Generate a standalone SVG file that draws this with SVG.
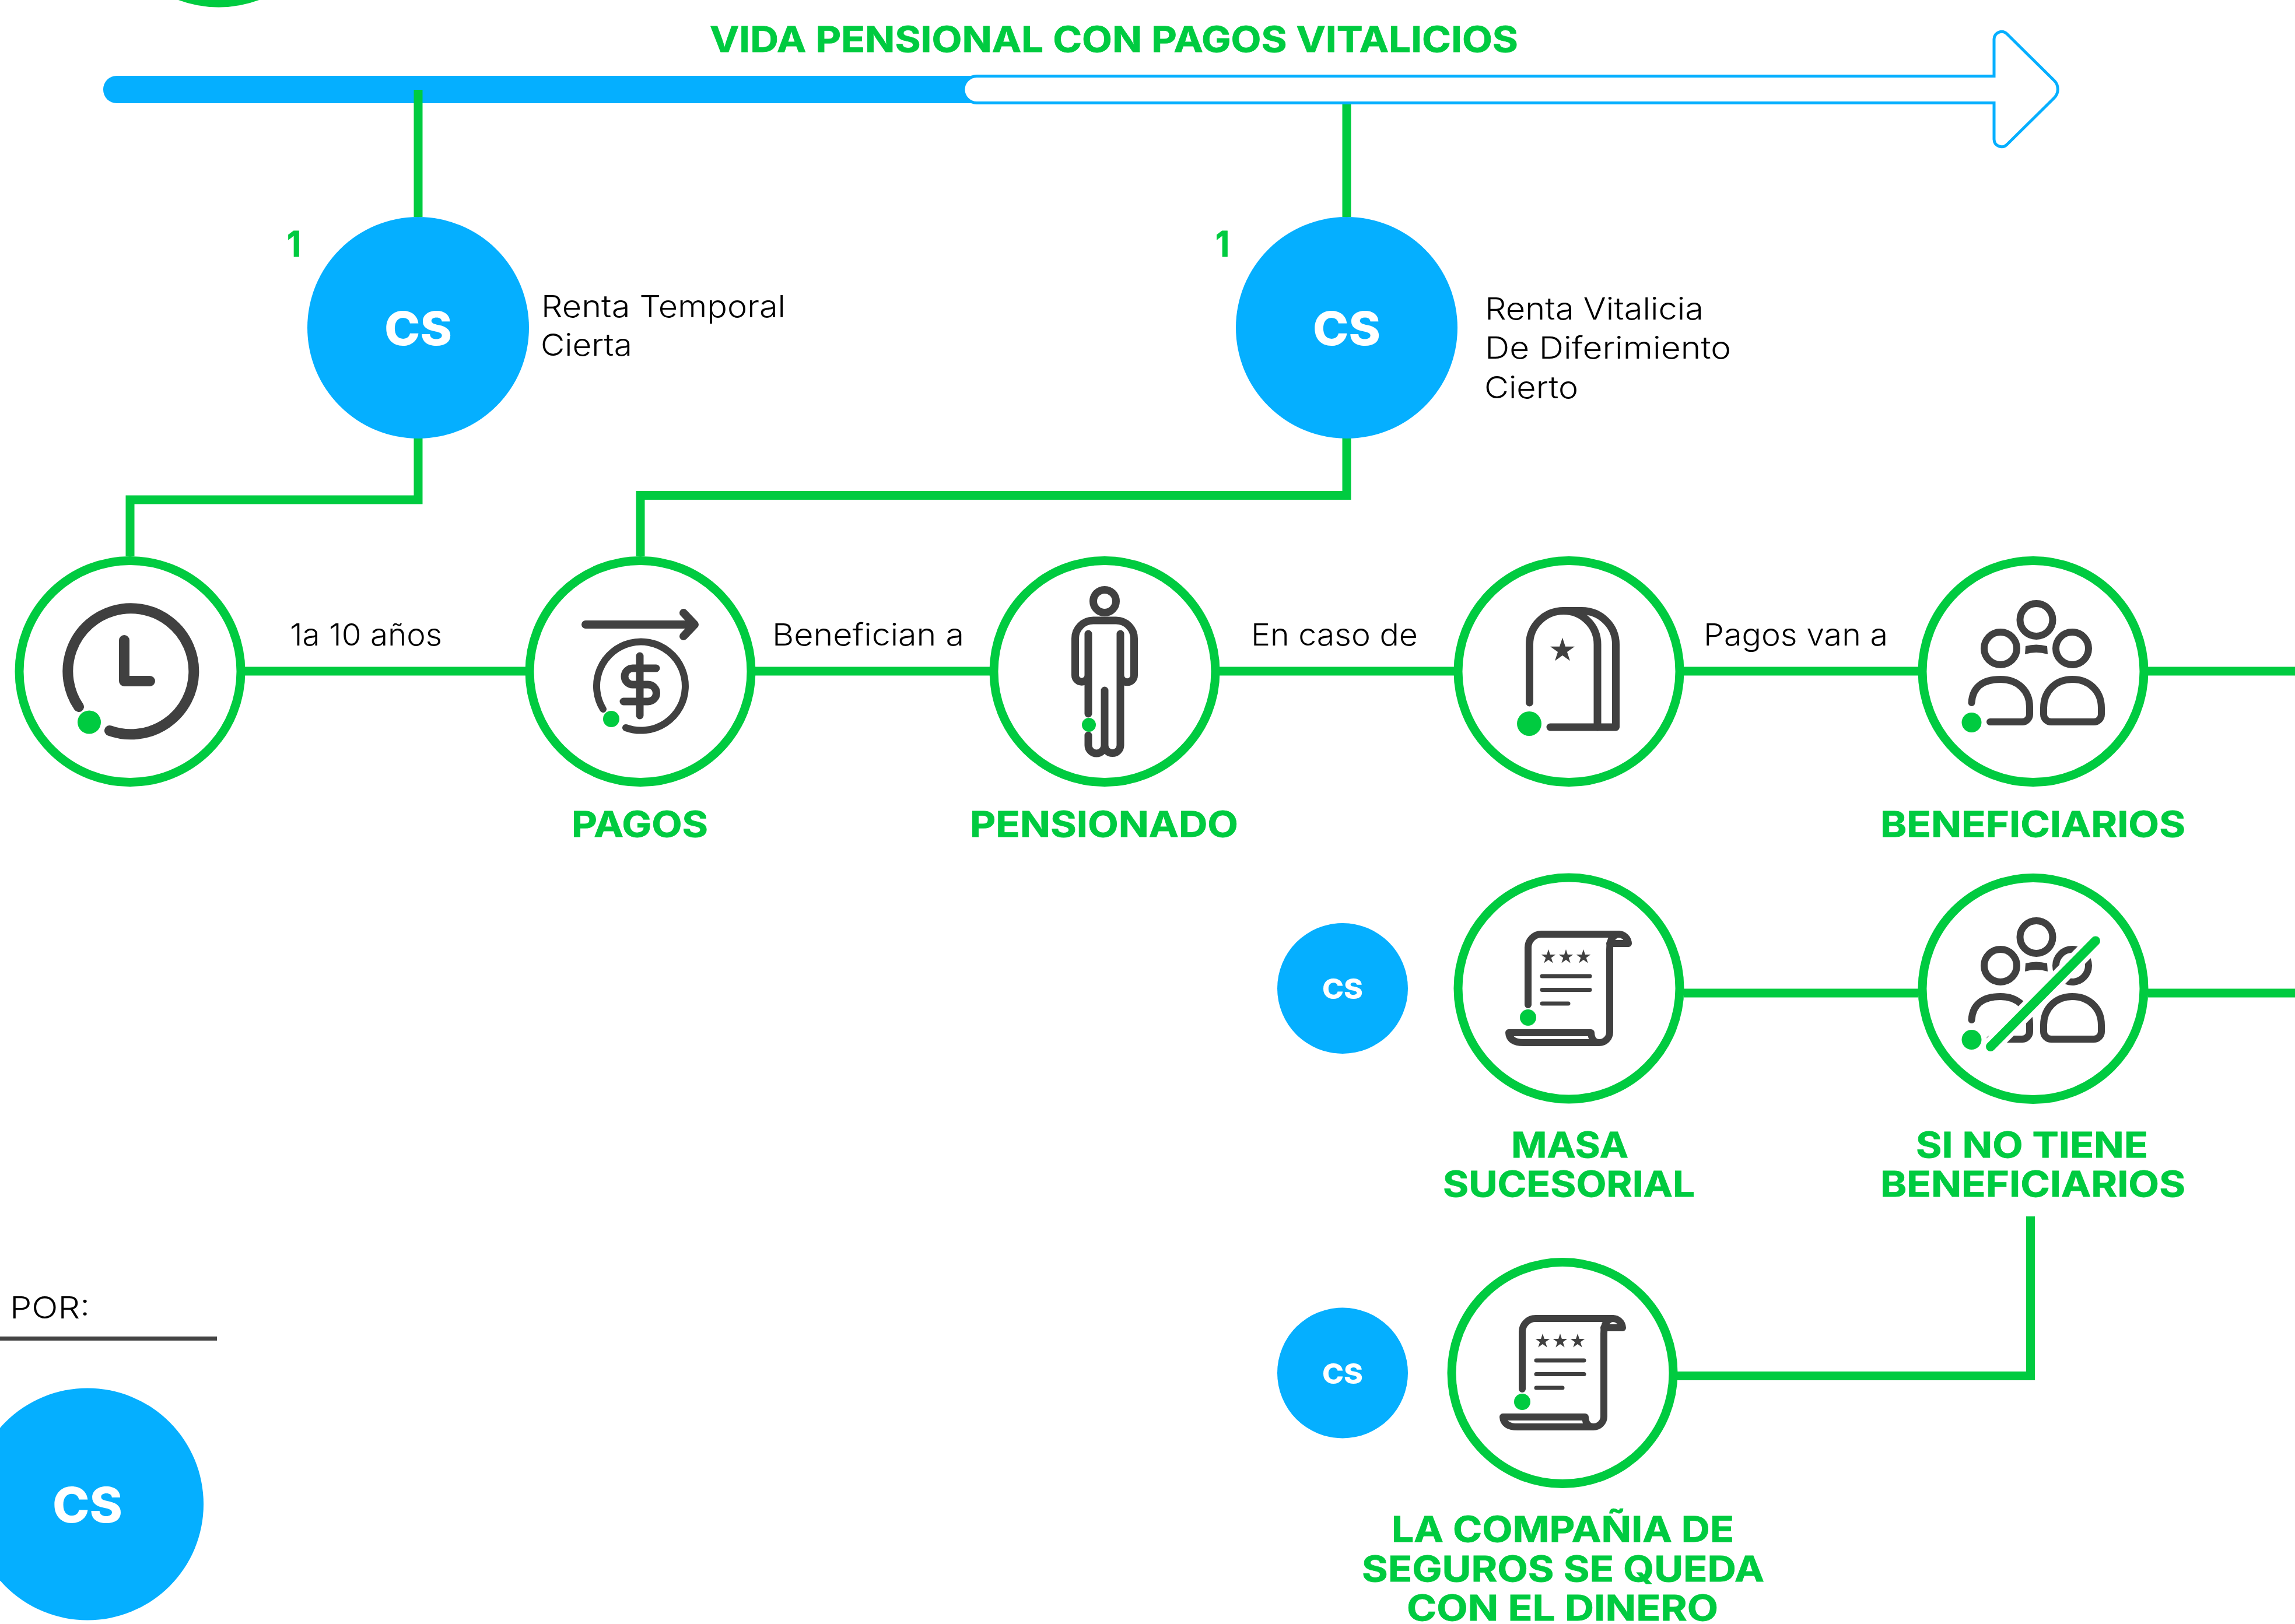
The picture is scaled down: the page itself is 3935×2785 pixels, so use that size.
<svg xmlns="http://www.w3.org/2000/svg" xmlns:xlink="http://www.w3.org/1999/xlink" width="3935" height="2785" viewBox="0 0 3935 2785">
<style>
text{font-family:"Inter","Noto Sans","Liberation Sans",sans-serif}
.lbl{font-size:52px;font-weight:300;fill:#000}
.hd{font-size:60px;font-weight:700;fill:#00cb40;stroke:#00cb40;stroke-width:.8px}
.cs{font-weight:800;fill:#fff}
.ring{fill:#fff;stroke:#00cb40;stroke-width:15}
.blue{fill:#05afff}
.dot{fill:#00cb40}
.ink{fill:none;stroke:#404040;stroke-linecap:round;stroke-linejoin:round}
.star{fill:#404040}
.conn{fill:none;stroke:#00cb40;stroke-width:15}
</style>
<defs>
<polygon id="star" points="0,-1 .225,-.309 .951,-.309 .363,.118 .588,.809 0,.382 -.588,.809 -.363,.118 -.951,-.309 -.225,-.309"/>
<g id="people">
<circle class="ink" stroke-width="12" cx="3491.5" cy="1063" r="28"/>
<circle class="ink" stroke-width="12" cx="3430" cy="1112" r="28"/>
<circle class="ink" stroke-width="12" cx="3553" cy="1112" r="28"/>
<path d="M3472 1122 L3473 1108 Q3491 1103 3510 1108 L3511 1122 Q3491 1116 3472 1122Z" fill="#404040"/>
<path class="ink" stroke-width="12" d="M3380.5 1205 C3382 1178 3400 1165 3430 1165 C3460 1165 3480 1185 3480 1212 V1225 A13 13 0 0 1 3467 1238 H3412"/>
<path class="ink" stroke-width="12" d="M3504 1225 V1214 C3504 1185 3525 1165 3553 1165 C3582 1165 3603 1185 3603 1214 V1225 A13 13 0 0 1 3590 1238 H3517 A13 13 0 0 1 3504 1225Z"/>
</g>
<g id="scroll">
<path class="ink" stroke-width="12" d="M2620 1723 V1625 A23 23 0 0 1 2643 1602 H2775 A17 17 0 0 1 2792 1618 H2760"/>
<path class="ink" stroke-width="12" d="M2775 1602 Q2760 1604 2760 1628 V1770 A18 18 0 0 1 2742 1788 H2612 Q2588 1788 2587 1771 H2728 Q2729 1788 2742 1788"/>
<use xlink:href="#star" class="star" transform="translate(2655 1641) scale(13)"/>
<use xlink:href="#star" class="star" transform="translate(2685 1641) scale(13)"/>
<use xlink:href="#star" class="star" transform="translate(2715 1641) scale(13)"/>
<path class="ink" stroke-width="7" d="M2644 1674 H2726 M2644 1697.5 H2726 M2644 1721 H2689"/>
<circle class="dot" cx="2620" cy="1745" r="14"/>
</g>
</defs>

<g id="timeline">
<circle class="ring" cx="375" cy="-185" r="190"/>
<rect class="blue" x="177" y="130" width="1530" height="47" rx="23"/>
<path fill="#fff" stroke="#05afff" stroke-width="5" d="M1675 130.5 H3419 V67 A13 13 0 0 1 3441 58 L3522 138 A21 21 0 0 1 3522 168 L3441 248 A13 13 0 0 1 3419 239 V176.5 H1675 A23 23 0 0 1 1675 130.5Z"/>
<text id="title" class="hd" x="1217" y="88.5" textLength="1386" lengthAdjust="spacingAndGlyphs">VIDA PENSIONAL CON PAGOS VITALICIOS</text>
</g>

<g id="connectors">
<path class="conn" d="M717 154 V372"/>
<path class="conn" d="M717 751 V857 H223 V954"/>
<path class="conn" d="M2309 179 V372"/>
<path class="conn" d="M2309 751 V849.5 H1098 V954"/>
<path class="conn" d="M420 1151 H901"/>
<path class="conn" d="M1295 1151 H1697"/>
<path class="conn" d="M2091 1151 H2493"/>
<path class="conn" d="M2887 1151 H3289"/>
<path class="conn" d="M3683 1151 H3935"/>
<path class="conn" d="M2887 1703 H3289"/>
<path class="conn" d="M3683 1703 H3935"/>
<path class="conn" d="M2876 2359.5 H3481.5 V2086"/>
</g>

<g id="cs-temporal">
<circle class="blue" cx="717" cy="562" r="190"/>
<text class="cs" font-size="80" x="659" y="592" textLength="116" lengthAdjust="spacingAndGlyphs">CS</text>
<text class="hd" x="492" y="440" textLength="24" lengthAdjust="spacingAndGlyphs">1</text>
<text class="lbl" x="928" y="543.5" textLength="419" lengthAdjust="spacingAndGlyphs">Renta Temporal</text>
<text class="lbl" x="927" y="610" textLength="157" lengthAdjust="spacingAndGlyphs">Cierta</text>
</g>
<g id="cs-vitalicia">
<circle class="blue" cx="2309" cy="562" r="190"/>
<text class="cs" font-size="80" x="2251" y="592" textLength="116" lengthAdjust="spacingAndGlyphs">CS</text>
<text class="hd" x="2084" y="440" textLength="24" lengthAdjust="spacingAndGlyphs">1</text>
<text class="lbl" x="2546" y="547.5" textLength="375" lengthAdjust="spacingAndGlyphs">Renta Vitalicia</text>
<text class="lbl" x="2546" y="615" textLength="422" lengthAdjust="spacingAndGlyphs">De Diferimiento</text>
<text class="lbl" x="2545" y="682.5" textLength="161" lengthAdjust="spacingAndGlyphs">Cierto</text>
</g>

<g id="node-clock">
<circle class="ring" cx="223" cy="1151.5" r="190"/>
<path class="ink" stroke-width="18" d="M135 1212 A108 108 0 1 1 188 1253"/>
<path class="ink" stroke-width="18" d="M213 1098 V1168 H257"/>
<circle class="dot" cx="153" cy="1238.5" r="20"/>
</g>
<text id="label-plazo" class="lbl" x="497" y="1107" textLength="261" lengthAdjust="spacingAndGlyphs">1a 10 años</text>

<g id="node-pagos">
<circle class="ring" cx="1098" cy="1151.5" r="190"/>
<path class="ink" stroke-width="14" d="M1004 1071 H1190 M1172 1051 L1191 1071 L1172 1091"/>
<path class="ink" stroke-width="12" d="M1034 1216 A76 76 0 1 1 1073 1248"/>
<path class="ink" stroke-width="13" d="M1097 1125 V1227 M1125 1146 H1085 A14 14 0 0 0 1085 1174 H1111 A14.5 14.5 0 0 1 1111 1203 H1069"/>
<circle class="dot" cx="1048" cy="1233" r="14"/>
<text class="hd" x="980" y="1435" textLength="234" lengthAdjust="spacingAndGlyphs">PAGOS</text>
</g>
<text id="label-benefician" class="lbl" x="1324" y="1107" textLength="329" lengthAdjust="spacingAndGlyphs">Benefician a</text>

<g id="node-pensionado">
<circle class="ring" cx="1894" cy="1151.5" r="190"/>
<circle class="ink" stroke-width="13" cx="1894" cy="1031" r="19.5"/>
<path class="ink" stroke-width="13" d="M1866 1087 V1224 M1866 1261 V1278 A14 14 0 0 0 1894 1278 V1184 M1894 1278 A13.5 13.5 0 0 0 1921 1278 V1087 M1866 1158 A11.25 11.25 0 0 1 1843.5 1158 V1095 A31 31 0 0 1 1874.5 1064 H1913.5 A31 31 0 0 1 1944.5 1095 V1158 A11.25 11.25 0 0 1 1921 1158"/>
<circle class="dot" cx="1867" cy="1243" r="12"/>
<text class="hd" x="1663" y="1435" textLength="460" lengthAdjust="spacingAndGlyphs">PENSIONADO</text>
</g>
<text id="label-caso" class="lbl" x="2145" y="1107" textLength="286" lengthAdjust="spacingAndGlyphs">En caso de</text>

<g id="node-fallecimiento">
<circle class="ring" cx="2690" cy="1151.5" r="190"/>
<path class="ink" stroke-width="13" d="M2622.5 1205 V1105 A58.5 57.5 0 0 1 2681 1047.5 H2712 A58.5 57.5 0 0 1 2770.5 1105 V1247 H2658"/>
<path class="ink" stroke-width="13" d="M2681 1047.5 A58 57.5 0 0 1 2739 1105 V1247"/>
<use xlink:href="#star" class="star" transform="translate(2679 1115.5) scale(22)"/>
<circle class="dot" cx="2622" cy="1241" r="21"/>
</g>
<text id="label-pagos-van" class="lbl" x="2921" y="1107" textLength="316" lengthAdjust="spacingAndGlyphs">Pagos van a</text>

<g id="node-beneficiarios">
<circle class="ring" cx="3486" cy="1151.5" r="190"/>
<use xlink:href="#people"/>
<circle class="dot" cx="3380.5" cy="1239" r="17"/>
<text class="hd" x="3224" y="1435" textLength="523" lengthAdjust="spacingAndGlyphs">BENEFICIARIOS</text>
</g>

<g id="node-sin-beneficiarios">
<circle class="ring" cx="3486" cy="1695.5" r="190"/>
<use xlink:href="#people" transform="translate(0 544)"/>
<path d="M3413 1795 L3593 1613.5" fill="none" stroke="#fff" stroke-width="30"/>
<path d="M3413 1795 L3593 1613.5" fill="none" stroke="#00cb40" stroke-width="16" stroke-linecap="round"/>
<circle class="dot" cx="3380.5" cy="1783" r="17"/>
<text class="hd" x="3285" y="1985" textLength="398" lengthAdjust="spacingAndGlyphs">SI NO TIENE</text>
<text class="hd" x="3224" y="2052" textLength="523" lengthAdjust="spacingAndGlyphs">BENEFICIARIOS</text>
</g>

<g id="node-masa">
<circle class="blue" cx="2302" cy="1695" r="112"/>
<text class="cs" font-size="48" x="2267" y="1713" textLength="70" lengthAdjust="spacingAndGlyphs">CS</text>
<circle class="ring" cx="2690" cy="1695" r="190"/>
<use xlink:href="#scroll"/>
<text class="hd" x="2591" y="1985" textLength="201" lengthAdjust="spacingAndGlyphs">MASA</text>
<text class="hd" x="2474" y="2052" textLength="432" lengthAdjust="spacingAndGlyphs">SUCESORIAL</text>
</g>

<g id="node-compania">
<circle class="blue" cx="2302" cy="2354.5" r="112"/>
<text class="cs" font-size="48" x="2267" y="2373" textLength="70" lengthAdjust="spacingAndGlyphs">CS</text>
<circle class="ring" cx="2679" cy="2354.5" r="190"/>
<use xlink:href="#scroll" transform="translate(-10 659)"/>
<text class="hd" x="2386" y="2644" textLength="587" lengthAdjust="spacingAndGlyphs">LA COMPAÑIA DE</text>
<text class="hd" x="2335" y="2711.5" textLength="690" lengthAdjust="spacingAndGlyphs">SEGUROS SE QUEDA</text>
<text class="hd" x="2412" y="2779" textLength="534" lengthAdjust="spacingAndGlyphs">CON EL DINERO</text>
</g>

<g id="por">
<text class="lbl" x="17" y="2261" textLength="137" lengthAdjust="spacingAndGlyphs">POR:</text>
<rect x="0" y="2292" width="372" height="7" fill="#444"/>
<circle class="blue" cx="150" cy="2579.5" r="199"/>
<text class="cs" font-size="84" x="90" y="2611" textLength="120" lengthAdjust="spacingAndGlyphs">CS</text>
</g>
</svg>
